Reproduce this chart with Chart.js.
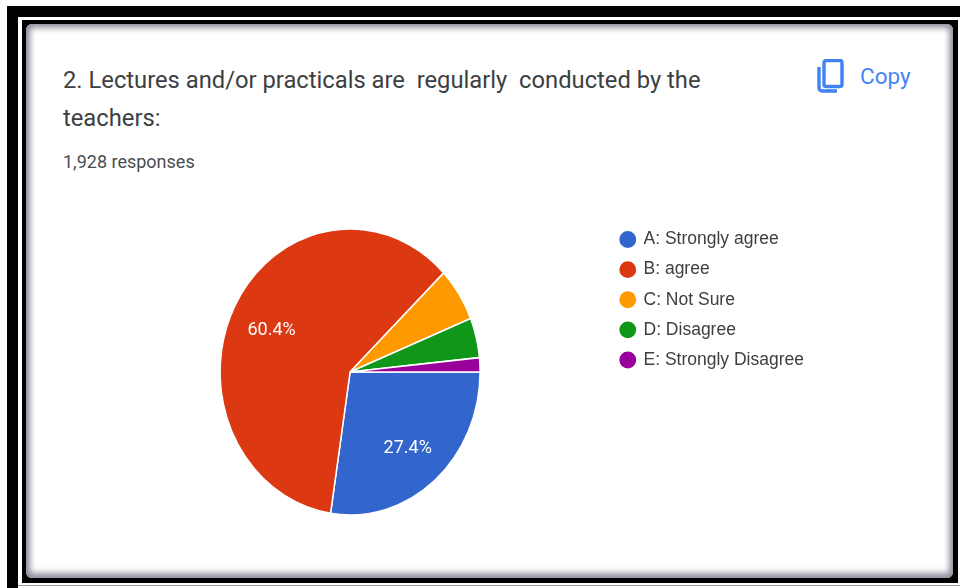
<!DOCTYPE html>
<html><head><meta charset="utf-8">
<script src="https://cdn.jsdelivr.net/npm/chart.js@4"></script>
<style>
html,body{margin:0;padding:0;background:#fff;width:960px;height:588px;overflow:hidden}
.a{position:absolute}
.t{position:absolute;font-family:Roboto,sans-serif;white-space:pre;color:#3c4043}
canvas{position:absolute;left:0;top:0}
</style></head><body>
<div class="a" style="left:7px;top:6px;width:953px;height:11px;background:#000"></div>
<div class="a" style="left:7px;top:6px;width:11px;height:582px;background:#000"></div>
<div class="a" style="left:22px;top:20px;width:936px;height:563px;background:#000"></div>
<div class="a" style="left:18px;top:585px;width:942px;height:1px;background:#999"></div>
<div class="a" style="left:26px;top:24px;width:927px;height:554px;background:#fff;border-radius:6px;box-shadow:inset 1px 1px 7px 2px #8a8792,inset -1px -3px 7px 2px #a9a6b2"></div>
<div class="t" style="left:63px;top:61px;font-size:23.75px;line-height:38px">2. Lectures and/or practicals are  regularly  conducted by the
teachers:</div>
<div class="t" style="left:63px;top:151px;font-size:18px;line-height:22px;color:#4a4d50">1,928 responses</div>
<svg class="a" style="left:816px;top:59px" width="30" height="34" viewBox="0 0 30 34"><path d="M8 3.5a2 2 0 0 1 2-2h14a2 2 0 0 1 2 2v22a2 2 0 0 1-2 2H10a2 2 0 0 1-2-2z M3 8v21a3 3 0 0 0 3 3h15" fill="none" stroke="#3f82f0" stroke-width="3.4"/></svg>
<div class="t" style="left:860px;top:62px;font-size:22.5px;line-height:28px;color:#4285f4">Copy</div>
<canvas id="c" width="960" height="588"></canvas>
<script>
const categories=["A: Strongly agree","B: agree","C: Not Sure","D: Disagree","E: Strongly Disagree"];
const shares=[27.4,60.4,6.1,4.5,1.6];
const sliceColors=["#3366cc","#dc3912","#ff9900","#109618","#990099"];
const shownLabels=["27.4%","60.4%",null,null,null];
const STRETCH=1.1;
const ellipse={id:"ellipse",
 beforeDatasetDraw(ch){const a=ch.getDatasetMeta(0).data[0],c=ch.ctx;c.save();c.translate(0,a.y);c.scale(1,STRETCH);c.translate(0,-a.y);},
 afterDatasetDraw(ch){ch.ctx.restore();},
 afterDatasetsDraw(ch){const c=ch.ctx;c.save();c.fillStyle="#fff";c.font="18px Roboto";c.textAlign="center";c.textBaseline="middle";
  ch.getDatasetMeta(0).data.forEach((a,i)=>{if(!shownLabels[i])return;
   const m=(a.startAngle+a.endAngle)/2,r=a.outerRadius*0.68;
   c.fillText(shownLabels[i],a.x+Math.cos(m)*r,a.y+3+Math.sin(m)*r*STRETCH);});c.restore();}};
new Chart(document.getElementById("c"),{type:"pie",
 data:{labels:categories,datasets:[{data:shares,backgroundColor:sliceColors,borderColor:"#fff",borderWidth:1.5,radius:130,rotation:90}]},
 plugins:[ellipse],
 options:{responsive:false,animation:false,
  layout:{padding:{left:92,right:146,top:218.2,bottom:62.2}},
  plugins:{tooltip:{enabled:false},
   legend:{position:"right",align:"start",labels:{usePointStyle:true,boxWidth:14,boxHeight:13,padding:12.6,color:"#3c4043",font:{family:"Liberation Sans",size:17.5}}}}}});
</script>
</body></html>
